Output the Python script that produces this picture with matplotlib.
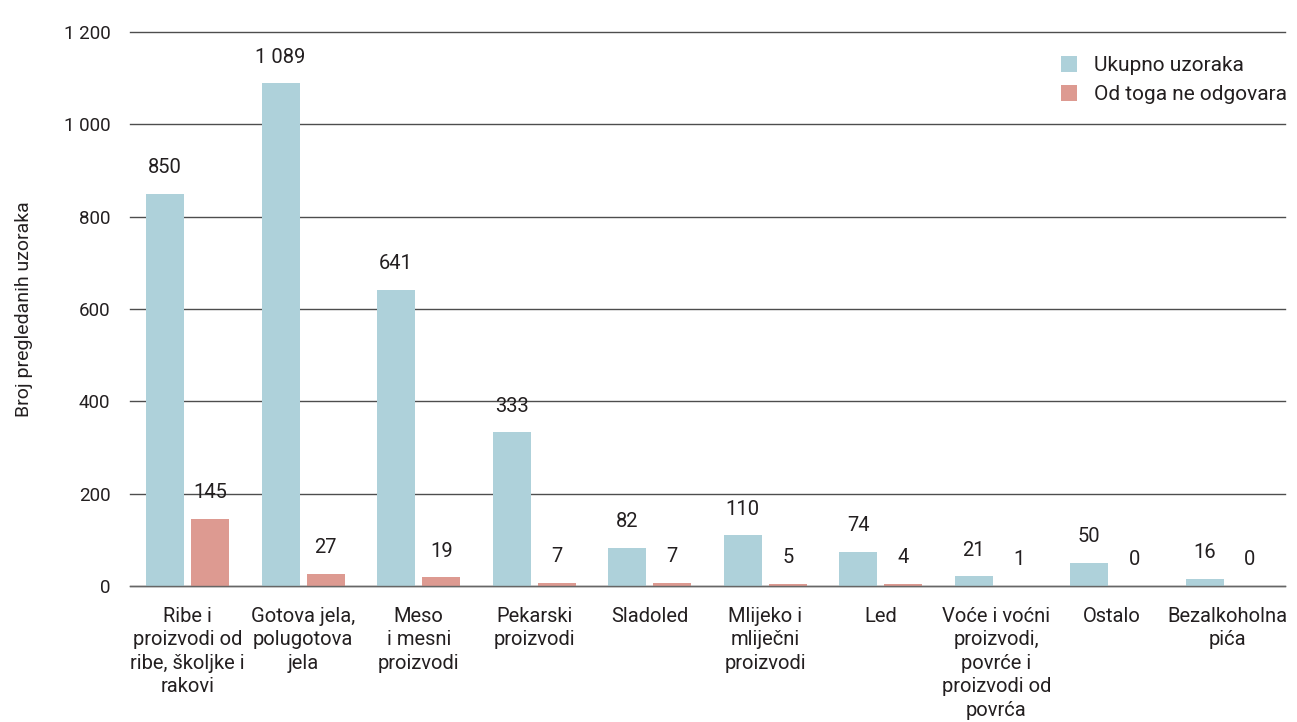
import matplotlib.pyplot as plt
import numpy as np

plt.rcParams['font.family'] = ['Roboto', 'DejaVu Sans']

# data
categories = ['Ribe i\nproizvodi od\nribe, školjke i\nrakovi',
              'Gotova jela,\npolugotova\njela',
              'Meso\ni mesni\nproizvodi',
              'Pekarski\nproizvodi',
              'Sladoled',
              'Mlijeko i\nmliječni\nproizvodi',
              'Led',
              'Voće i voćni\nproizvodi,\npovrće i\nproizvodi od\npovrća',
              'Ostalo',
              'Bezalkoholna\npića']
ukupno = [850, 1089, 641, 333, 82, 110, 74, 21, 50, 16]
ne_odgovara = [145, 27, 19, 7, 7, 5, 4, 1, 0, 0]
yticks = [0, 200, 400, 600, 800, 1000, 1200]
ytick_labels = ['0', '200', '400', '600', '800', '1 000', '1 200']

blue = '#aed1da'
red = '#dd9a91'
text_color = '#231f20'

fig = plt.figure(figsize=(12.97, 7.22), dpi=100)
ax = fig.add_axes([0.1002, 0.1884, 0.8905, 0.7673])

x = np.arange(len(categories))
w = 0.33
b1 = ax.bar(x - 0.195, ukupno, w, color=blue, label='Ukupno uzoraka', zorder=3)
b2 = ax.bar(x + 0.195, ne_odgovara, w, color=red, label='Od toga ne odgovara', zorder=3)

def fmt(v):
    return f'{v:,}'.replace(',', ' ')

for bars, vals in [(b1, ukupno), (b2, ne_odgovara)]:
    for bar, v in zip(bars, vals):
        ax.annotate(fmt(v), (bar.get_x() + bar.get_width() / 2, v),
                    xytext=(0, 12), textcoords='offset points',
                    ha='center', va='bottom', fontsize=14.5, color=text_color)

ax.set_xlim(-0.5, len(categories) - 0.5)
ax.set_ylim(0, 1200)
ax.set_yticks(yticks)
ax.set_yticklabels(ytick_labels)
ax.set_xticks(x)
ax.set_xticklabels(categories, linespacing=1.3)
ax.tick_params(axis='both', length=0, labelsize=14.5, colors=text_color)
ax.tick_params(axis='y', pad=14, labelsize=13.5)
ax.tick_params(axis='x', pad=15)
ax.yaxis.grid(True, color='#4d4d4d', linewidth=1, zorder=0)
for gl in ax.get_ygridlines():
    gl.set_clip_on(False)
for s in ax.spines.values():
    s.set_visible(False)
# baseline drawn over the bars
ax.axhline(0, color='#666666', linewidth=1, zorder=4, clip_on=False)

ax.set_ylabel('Broj pregledanih uzoraka', fontsize=14, color=text_color, labelpad=22)

leg = ax.legend(loc='upper right', frameon=False, fontsize=15,
                handlelength=0.8, handleheight=0.8, handletextpad=0.8,
                labelspacing=0.45, bbox_to_anchor=(1.018, 0.99))
for t in leg.get_texts():
    t.set_color(text_color)

fig.savefig('out.png', dpi=100)
